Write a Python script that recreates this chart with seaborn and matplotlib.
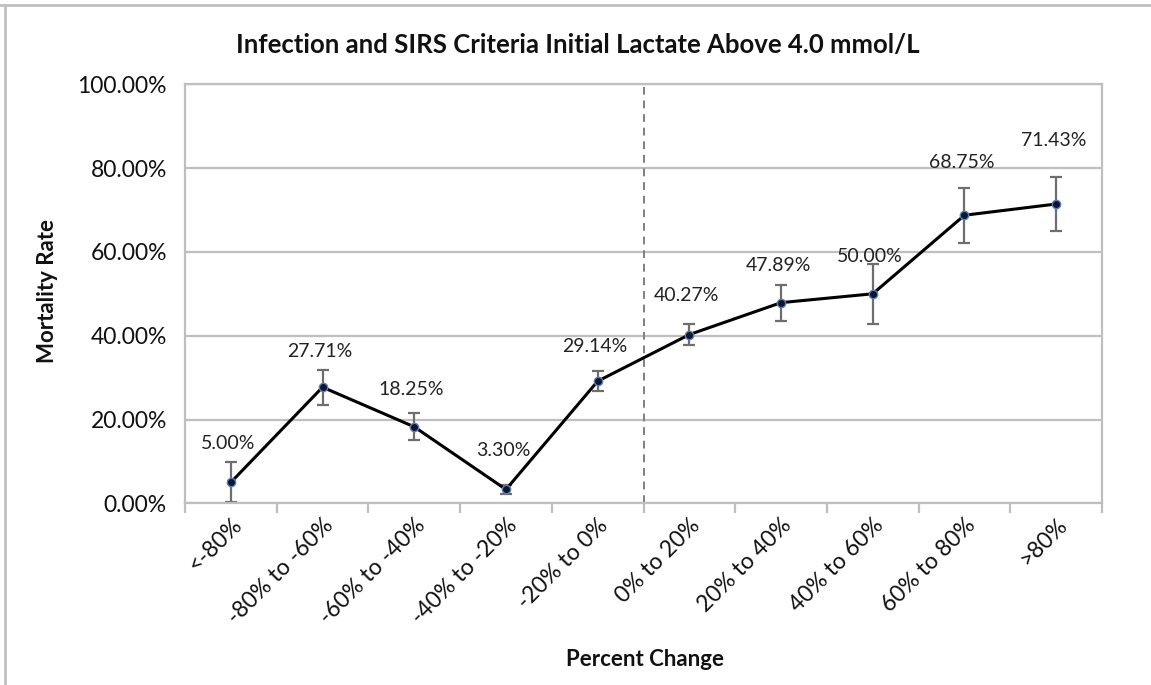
import numpy as np
import pandas as pd
import matplotlib
matplotlib.use("Agg")
import matplotlib.pyplot as plt
from matplotlib.lines import Line2D
import seaborn as sns

categories = ["<-80%", "-80% to -60%", "-60% to -40%", "-40% to -20%", "-20% to 0%",
              "0% to 20%", "20% to 40%", "40% to 60%", "60% to 80%", ">80%"]
mortality = [5.00, 27.71, 18.25, 3.30, 29.14, 40.27, 47.89, 50.00, 68.75, 71.43]
error = [4.8, 4.2, 3.2, 1.1, 2.4, 2.5, 4.3, 7.2, 6.6, 6.4]
y_ticks = [0, 20, 40, 60, 80, 100]

# label vertical offsets in points (style, not data)
label_offsets = [28, 26, 27, 28, 25, 28, 27, 27, 38, 46]

sns.set_theme(style="white")
plt.rcParams["font.family"] = ["Lato", "DejaVu Sans"]

df = pd.DataFrame({"pos": np.arange(len(categories)), "rate": mortality, "err": error})

fig = plt.figure(figsize=(11.51, 6.85), dpi=100)
ax = fig.add_axes([185/1151, 1-503.3/685, (1102-185)/1151, (503.3-84.3)/685])

grid_c = "#bfbfbf"
for t in y_ticks:
    ax.axhline(t, color=grid_c, lw=1.6, zorder=0)

ax.axvline(4.5, color="#7f7f7f", lw=1.4, ls=(0, (4, 3)), zorder=1)

ax.errorbar(df["pos"], df["rate"], yerr=df["err"], fmt="none", ecolor="#6e6e6e",
            elinewidth=1.6, capsize=4.5, capthick=1.6, zorder=2)

sns.lineplot(data=df, x="pos", y="rate", ax=ax, color="black", lw=2.2,
             marker="o", markersize=6, markerfacecolor="#0b1633",
             markeredgecolor="#5a7fb5", markeredgewidth=1.0, zorder=3)

for x, y, off in zip(df["pos"], df["rate"], label_offsets):
    ax.annotate(f"{y:.2f}%", (x, y), xytext=(-2, off), textcoords="offset points",
                ha="center", va="center", fontsize=14, color="#222222")

ax.set_xlim(-0.5, len(categories) - 0.5)
ax.set_ylim(0, 100)
ax.set_yticks(y_ticks)
ax.set_yticklabels([f"{t:.2f}%" for t in y_ticks], fontsize=16.5, color="#111111")
ax.set_xticks(df["pos"])
ax.set_xticklabels(categories, rotation=45, ha="right", rotation_mode="anchor",
                   fontsize=16.5, color="#111111")
ax.tick_params(axis="x", which="major", length=0, pad=8)
ax.set_xticks(np.arange(-0.5, len(categories), 1.0), minor=True)
ax.tick_params(axis="x", which="minor", length=7, width=1.6, color=grid_c, direction="out")
ax.tick_params(axis="y", length=7, width=1.6, color=grid_c, direction="out", pad=6)
ax.xaxis.set_tick_params(which="minor", bottom=True)

for s in ax.spines.values():
    s.set_color(grid_c)
    s.set_linewidth(1.6)

ax.set_xlabel("")
ax.set_ylabel("")
fig.text(645/1151, 1-660/685, "Percent Change", ha="center", va="center",
         fontsize=16, fontweight="bold", color="#111111")
fig.text(47/1151, 1-291/685, "Mortality Rate", ha="center", va="center",
         rotation=90, fontsize=16, fontweight="bold", color="#111111")
fig.text(578/1151, 1-45/685, "Infection and SIRS Criteria Initial Lactate Above 4.0 mmol/L",
         ha="center", va="center", fontsize=18.5, fontweight="bold", color="#111111")

fig.add_artist(Line2D([0, 1], [1-5/685, 1-5/685], transform=fig.transFigure,
                      color="#c0c0c0", lw=2))
fig.add_artist(Line2D([5/1151, 5/1151], [0, 1-5/685], transform=fig.transFigure,
                      color="#c0c0c0", lw=2))

fig.savefig("out.png", dpi=100, facecolor="white")
